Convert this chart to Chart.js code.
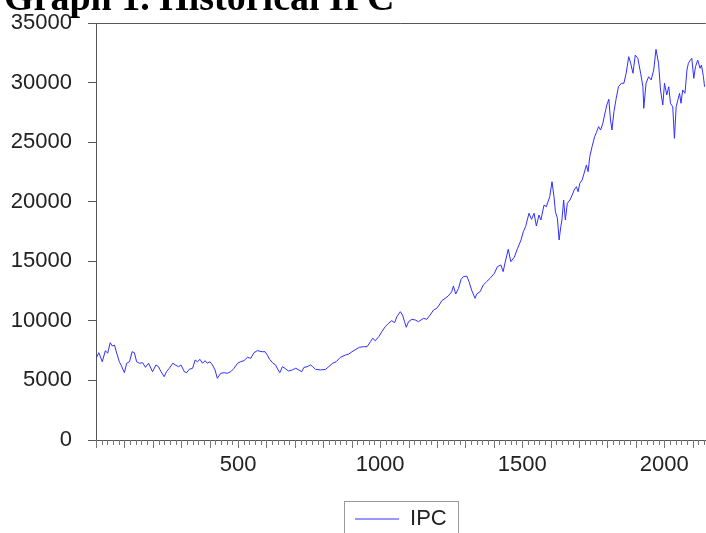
<!DOCTYPE html>
<html>
<head>
<meta charset="utf-8">
<script src="https://cdn.jsdelivr.net/npm/chart.js@4.4.1/dist/chart.umd.min.js"></script>
<style>
  html, body { margin: 0; padding: 0; background: #fff; }
  #wrap { width: 706px; height: 533px; overflow: hidden; position: relative; }
  canvas { display: block; }
</style>
</head>
<body>
<div id="wrap"><canvas id="ipcChart" width="716" height="540"></canvas></div>
<script>
const obsIndex = [
  1, 10, 22, 33, 41, 50, 57, 65, 73, 82, 88, 100, 108, 118, 127, 135, 143, 153, 164, 174,
  185, 199, 211, 220, 229, 240, 248, 258, 270, 279, 291, 299, 311, 319, 328, 340, 349, 357, 366, 375,
  384, 392, 401, 410, 419, 427, 439, 451, 462, 474, 486, 498, 509, 521, 533, 545, 556, 568, 585, 595,
  603, 611, 623, 632, 641, 647, 656, 665, 677, 691, 703, 714, 724, 732, 743, 755, 763, 773, 790, 808,
  819, 833, 845, 860, 878, 890, 901, 915, 927, 942, 954, 966, 974, 983, 995, 1006, 1018, 1030, 1041, 1051,
  1059, 1071, 1079, 1086, 1092, 1100, 1112, 1124, 1135, 1153, 1164, 1176, 1188, 1199, 1208, 1217, 1229, 1240, 1252, 1258,
  1266, 1276, 1285, 1293, 1305, 1313, 1322, 1334, 1340, 1352, 1363, 1375, 1387, 1402, 1413, 1425, 1433, 1442, 1451, 1460,
  1472, 1484, 1496, 1504, 1512, 1524, 1533, 1542, 1550, 1559, 1566, 1577, 1585, 1597, 1605, 1612, 1617, 1624, 1630, 1636,
  1640, 1646, 1652, 1659, 1668, 1676, 1683, 1691, 1697, 1703, 1711, 1718, 1726, 1732, 1738, 1746, 1755, 1761, 1769, 1776,
  1784, 1790, 1798, 1805, 1811, 1816, 1823, 1831, 1839, 1849, 1858, 1866, 1875, 1882, 1890, 1898, 1907, 1917, 1925, 1928,
  1936, 1945, 1954, 1963, 1971, 1980, 1987, 1995, 2001, 2009, 2016, 2022, 2030, 2036, 2042, 2048, 2054, 2059, 2065, 2073,
  2080, 2085, 2092, 2097, 2104, 2110, 2118, 2126, 2131, 2138, 2142
];
const ipcValues = [
  6880, 7330, 6570, 7500, 7280, 8170, 7890, 7970, 7280, 6570, 6300, 5650, 6440, 6570, 7410, 7330, 6570, 6440, 6490, 6100,
  6440, 5730, 6300, 6150, 5730, 5310, 5730, 6020, 6440, 6300, 6150, 6300, 5730, 5650, 5930, 6020, 6710, 6570, 6770, 6440,
  6660, 6440, 6570, 6300, 5880, 5180, 5600, 5650, 5600, 5730, 6020, 6440, 6570, 6660, 6940, 6860, 7330, 7500, 7410, 7410,
  7130, 6770, 6440, 6300, 5880, 5650, 6150, 6020, 5790, 5880, 6020, 5880, 5730, 6100, 6150, 6300, 6150, 5930, 5880, 5930,
  6150, 6440, 6570, 6940, 7130, 7220, 7410, 7610, 7780, 7830, 7830, 8250, 8540, 8330, 8670, 9090, 9510, 9800, 10010, 9850,
  10350, 10770, 10490, 9930, 9460, 9930, 10130, 10070, 9930, 10210, 10130, 10490, 10910, 11050, 11330, 11690, 11890, 12090, 12450, 12930,
  12250, 12730, 13490, 13710, 13760, 13290, 12590, 11890, 12250, 12450, 13010, 13290, 13570, 13990, 14550, 14690, 14130, 15110, 16010, 14970,
  15330, 16090, 16790, 17480, 17900, 19030, 18520, 19030, 17960, 18880, 18470, 19720, 19580, 20420, 21680, 20420, 19160, 18610, 16790, 17900,
  18470, 20140, 18470, 19870, 20140, 20560, 20980, 21260, 20840, 21550, 21820, 22380, 23080, 22520, 23780, 24620, 25460, 25790, 26300, 26020,
  26580, 27280, 28120, 28600, 26860, 26020, 27550, 28680, 29650, 29940, 29940, 30780, 32170, 31620, 30780, 32310, 32040, 30780, 29650, 27840,
  29940, 30490, 30220, 31050, 32790, 31620, 29380, 28120, 29940, 28960, 29650, 28260, 27970, 25320, 27970, 28540, 29100, 28260, 29380, 29100,
  31050, 31620, 31890, 32040, 30360, 31330, 31890, 31200, 31470, 30490, 29650
];
const xLabels = [500, 1000, 1500, 2000];
const seriesName = 'IPC';
const chartTitle = 'Graph 1. Historical IPC';

const axisColor = '#555';
const labelFont = { family: '"Liberation Sans", Arial, sans-serif', size: 22 };

const frameAndTicks = {
  id: 'frameAndTicks',
  afterDraw(chart) {
    const ctx = chart.ctx;
    const area = chart.chartArea;
    const xs = chart.scales.x;
    ctx.save();
    ctx.strokeStyle = axisColor;
    ctx.lineWidth = 1;
    // top frame line
    ctx.beginPath();
    ctx.moveTo(area.left, Math.round(area.top) + 0.5);
    ctx.lineTo(area.right, Math.round(area.top) + 0.5);
    ctx.stroke();
    // x minor / major ticks
    ctx.strokeStyle = '#777';
    xs.ticks.forEach(t => {
      const px = Math.round(xs.getPixelForValue(t.value)) + 0.5;
      const len = t.value % 100 === 0 ? 8 : 5;
      ctx.beginPath();
      ctx.moveTo(px, area.bottom);
      ctx.lineTo(px, area.bottom + len);
      ctx.stroke();
    });
    // legend frame
    const hb = chart.legend.legendHitBoxes[0];
    if (hb) {
      const cy = hb.top + hb.height / 2;
      ctx.strokeStyle = '#999';
      ctx.strokeRect(Math.round(hb.left - 11) + 0.5, Math.round(cy - 18) + 0.5,
        Math.round(hb.width + 22), 60);
    }
    // title, partly off the top of the picture
    ctx.fillStyle = '#000';
    ctx.font = 'bold 38px "Liberation Serif", "Times New Roman", serif';
    ctx.textBaseline = 'alphabetic';
    ctx.textAlign = 'left';
    ctx.fillText(chartTitle, 4, 10);
    ctx.restore();
  }
};

new Chart(document.getElementById('ipcChart'), {
  type: 'line',
  data: {
    datasets: [{
      label: seriesName,
      data: obsIndex.map((x, i) => ({ x: x, y: ipcValues[i] })),
      borderColor: '#3030ff',
      backgroundColor: '#3030ff',
      borderWidth: 1,
      pointRadius: 0,
      pointStyle: 'line',
      tension: 0
    }]
  },
  options: {
    responsive: false,
    animation: false,
    layout: { padding: { top: 23, left: 0, right: 0, bottom: 0 } },
    plugins: {
      title: { display: false },
      tooltip: { enabled: false },
      legend: {
        position: 'bottom',
        fullSize: false,
        labels: {
          usePointStyle: true,
          pointStyleWidth: 44,
          color: '#222',
          font: labelFont,
          padding: 10
        }
      }
    },
    scales: {
      x: {
        type: 'linear',
        min: 0,
        max: 2146,
        afterBuildTicks(scale) {
          const t = [];
          for (let v = 0; v <= 2140; v += 20) t.push({ value: v });
          scale.ticks = t;
        },
        afterFit(scale) { scale.height = 58; },
        grid: { drawOnChartArea: false, drawTicks: false, display: false },
        border: { display: true, color: axisColor, width: 1 },
        ticks: {
          autoSkip: false,
          maxRotation: 0,
          padding: 12,
          color: '#222',
          font: labelFont,
          callback: v => xLabels.includes(v) ? String(v) : ''
        }
      },
      y: {
        min: 0,
        max: 35000,
        afterFit(scale) {
          scale.width = 96;
          scale.paddingTop = 0;
          scale.paddingBottom = 0;
        },
        ticks: {
          stepSize: 5000,
          padding: 16,
          color: '#222',
          font: labelFont,
          callback: v => String(v)
        },
        grid: { drawOnChartArea: false, tickLength: 8, tickColor: axisColor },
        border: { display: true, color: axisColor, width: 1 }
      }
    }
  },
  plugins: [frameAndTicks]
});
</script>
</body>
</html>
